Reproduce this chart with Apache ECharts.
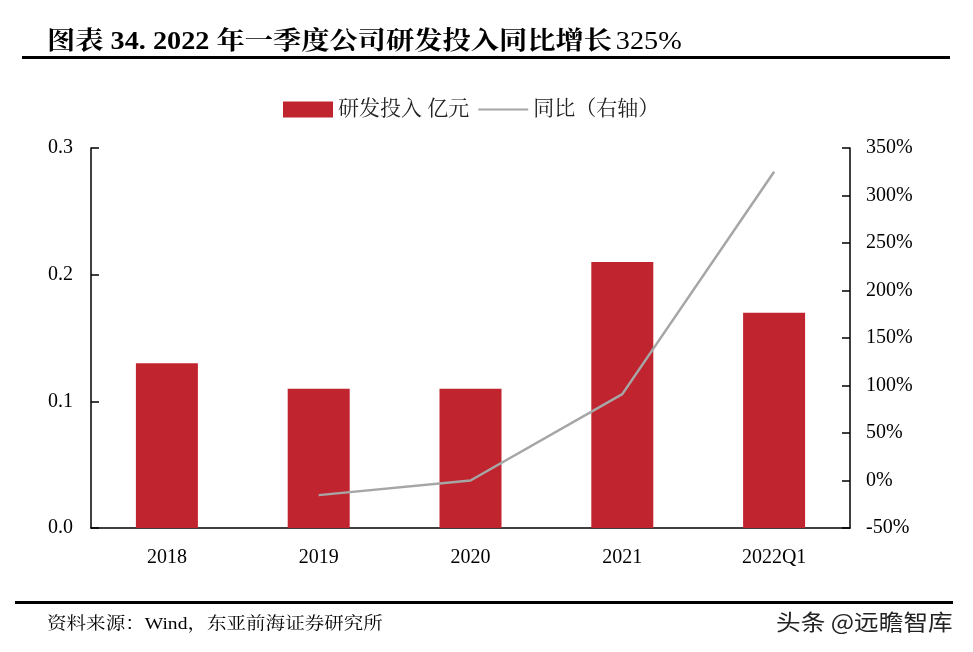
<!DOCTYPE html>
<html>
<head>
<meta charset="utf-8">
<script src="https://cdn.jsdelivr.net/npm/echarts@6/dist/echarts.min.js"></script>
<style>
html,body{margin:0;padding:0;background:#fff;}
#c{width:973px;height:652px;}
</style>
</head>
<body>
<div id="c"></div>
<script>
const categories = ['2018', '2019', '2020', '2021', '2022Q1'];
const rdInvest = [0.13, 0.11, 0.11, 0.21, 0.17];
const yoyGrowth = [null, -15.4, 0, 90.9, 325];
const leftTicks = { min: 0, max: 0.3, interval: 0.1 };
const rightTicks = { min: -50, max: 350, interval: 50 };
const seriesNames = ['研发投入 亿元', '同比（右轴）'];
const titleBold = '图表 34. 2022 年一季度公司研发投入同比增长';
const titleTail = '325%';
const sourceText = '资料来源：Wind，东亚前海证券研究所';
const watermarkText = '头条 @远瞻智库';

const serif = '"Times New Roman", "Liberation Serif", "Noto Serif CJK SC", "Noto Sans CJK SC", serif';
const chart = echarts.init(document.getElementById('c'), null, { renderer: 'canvas' });
chart.setOption({
  backgroundColor: '#ffffff',
  animation: false,
  graphic: [
    {
      type: 'text', x: 47, y: 30, scaleX: 1.13, originX: 0,
      style: {
        text: '{b|' + titleBold + '} {n|' + titleTail + '}',
        rich: {
          b: { fontFamily: serif, fontWeight: 'bold', fontSize: 25, fill: '#000' },
          n: { fontFamily: serif, fontWeight: 'normal', fontSize: 25, fill: '#000' }
        }
      }
    },
    { type: 'rect', shape: { x: 22, y: 56, width: 928, height: 3 }, style: { fill: '#000' } },
    { type: 'rect', shape: { x: 15, y: 601, width: 938, height: 3 }, style: { fill: '#000' } },
    { type: 'text', x: 47, y: 616, scaleX: 1.15, originX: 0, style: { text: sourceText, font: '17px ' + serif, fill: '#000' } },
    { type: 'text', x: 776, y: 611, scaleX: 1.12, originX: 0, style: { text: watermarkText, font: '22px "Noto Sans CJK SC", sans-serif', fill: '#222' } }
  ],
  legend: {
    left: 278, top: 94,
    itemWidth: 50, itemHeight: 16, itemGap: 8,
    textStyle: { fontFamily: serif, fontSize: 21, color: '#222' },
    data: [
      { name: seriesNames[0], icon: 'rect' },
      { name: seriesNames[1], itemStyle: { opacity: 0 } }
    ]
  },
  grid: { left: 91, right: 123, top: 148, bottom: 124, containLabel: false },
  xAxis: {
    type: 'category',
    data: categories,
    axisLine: { lineStyle: { color: '#000', width: 1.5 } },
    axisTick: { show: false },
    axisLabel: { fontFamily: serif, fontSize: 20, color: '#000', margin: 20 }
  },
  yAxis: [
    {
      type: 'value', min: leftTicks.min, max: leftTicks.max, interval: leftTicks.interval,
      splitLine: { show: false },
      axisLine: { show: true, lineStyle: { color: '#000', width: 1.5 } },
      axisTick: { show: true, inside: true, length: 8, lineStyle: { color: '#000', width: 1.5 } },
      axisLabel: { fontFamily: serif, fontSize: 20, color: '#000', margin: 18, formatter: v => v.toFixed(1) }
    },
    {
      type: 'value', min: rightTicks.min, max: rightTicks.max, interval: rightTicks.interval,
      splitLine: { show: false },
      axisLine: { show: true, lineStyle: { color: '#000', width: 1.5 } },
      axisTick: { show: true, inside: true, length: 8, lineStyle: { color: '#000', width: 1.5 } },
      axisLabel: { fontFamily: serif, fontSize: 20, color: '#000', margin: 16, formatter: '{value}%' }
    }
  ],
  series: [
    {
      name: seriesNames[0], type: 'bar', data: rdInvest, barWidth: 62,
      itemStyle: { color: '#C0252F' }
    },
    {
      name: seriesNames[1], type: 'line', yAxisIndex: 1, data: yoyGrowth,
      symbol: 'none', connectNulls: false,
      lineStyle: { color: '#A6A6A6', width: 2.5 },
      itemStyle: { color: '#A6A6A6' }
    }
  ]
});
</script>
</body>
</html>
